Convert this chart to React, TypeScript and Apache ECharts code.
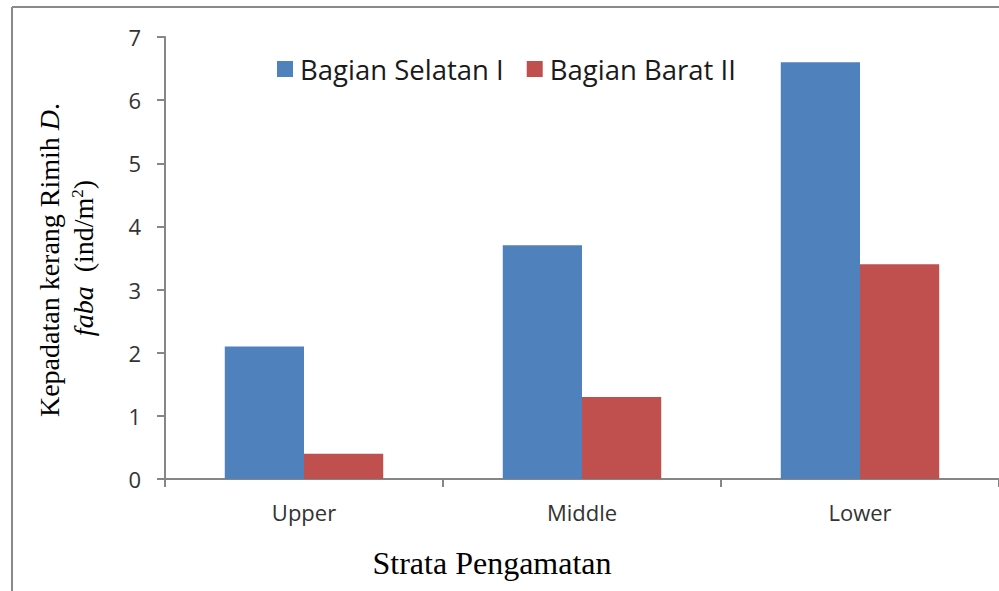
import React, { useEffect, useRef } from "react";
import * as echarts from "echarts";

const categories = ["Upper", "Middle", "Lower"];
const seriesNames = ["Bagian Selatan I", "Bagian Barat II"];
const selatanValues = [2.1, 3.7, 6.6];
const baratValues = [0.4, 1.3, 3.4];
const colors = ["#4f81bd", "#c0504d"];

export default function App() {
  const ref = useRef<HTMLDivElement>(null);
  useEffect(() => {
    if (!ref.current) return;
    const chart = echarts.init(ref.current, null, { renderer: "svg" });
    const serif = "'Liberation Serif', 'Times New Roman', serif";
    const sans = "'Open Sans', 'Noto Sans', sans-serif";
    chart.setOption({
      animation: false,
      backgroundColor: "#ffffff",
      grid: { left: 165, right: -6, top: 37, bottom: 112 },
      legend: {
        top: 50,
        left: 272,
        itemWidth: 16,
        itemHeight: 16,
        itemGap: 23,
        icon: "rect",
        textStyle: { fontFamily: sans, fontSize: 27.5, color: "#1a1a1a", padding: [0, 0, 0, 2] },
        data: seriesNames,
      },
      xAxis: {
        type: "category",
        data: categories,
        axisLine: { lineStyle: { color: "#868686", width: 2 } },
        axisTick: { show: true, length: 8, lineStyle: { color: "#868686", width: 2 } },
        axisLabel: { fontFamily: sans, fontSize: 22, color: "#333333", margin: 22 },
      },
      yAxis: {
        type: "value",
        min: 0,
        max: 7,
        interval: 1,
        splitLine: { show: false },
        axisLine: { show: true, lineStyle: { color: "#868686", width: 2 } },
        axisTick: { show: true, length: 8, lineStyle: { color: "#868686", width: 2 } },
        axisLabel: { fontFamily: sans, fontSize: 22, color: "#333333", margin: 24 },
      },
      series: [
        {
          name: seriesNames[0],
          type: "bar",
          data: selatanValues,
          itemStyle: { color: colors[0] },
          barGap: "0%",
          barCategoryGap: "43%",
        },
        {
          name: seriesNames[1],
          type: "bar",
          data: baratValues,
          itemStyle: { color: colors[1] },
          barGap: "0%",
          barCategoryGap: "43%",
        },
      ],
      graphic: [
        { type: "line", shape: { x1: 12, y1: 7, x2: 12, y2: 591 }, style: { stroke: "#8a8a8a", lineWidth: 2 } },
        { type: "line", shape: { x1: 12, y1: 7, x2: 999, y2: 7 }, style: { stroke: "#8a8a8a", lineWidth: 2 } },
        {
          type: "text",
          x: 49,
          y: 260,
          rotation: Math.PI / 2,
          style: {
            text: "{n|Kepadatan kerang Rimih }{i|D}{n|.}",
            align: "center",
            verticalAlign: "middle",
            rich: {
              n: { fontFamily: serif, fontSize: 28, fill: "#000" },
              i: { fontFamily: serif, fontSize: 28, fontStyle: "italic", fill: "#000" },
            },
          },
        },
        {
          type: "text",
          x: 83,
          y: 258,
          rotation: Math.PI / 2,
          style: {
            text: "{i|faba}{n|  (ind/m}{s|2}{n|)}",
            align: "center",
            verticalAlign: "middle",
            rich: {
              n: { fontFamily: serif, fontSize: 28, fill: "#000" },
              i: { fontFamily: serif, fontSize: 28, fontStyle: "italic", fill: "#000" },
              s: { fontFamily: serif, fontSize: 17, fill: "#000", verticalAlign: "top", padding: [0, 0, 12, 0] },
            },
          },
        },
        {
          type: "text",
          x: 492,
          y: 563,
          style: {
            text: "Strata Pengamatan",
            fontFamily: serif,
            fontSize: 32,
            fill: "#000",
            align: "center",
            verticalAlign: "middle",
          },
        },
      ],
    });
    return () => chart.dispose();
  }, []);
  return (
    <div
      ref={ref}
      style={{ position: "fixed", left: 0, top: 0, width: 999, height: 591 }}
    />
  );
}
